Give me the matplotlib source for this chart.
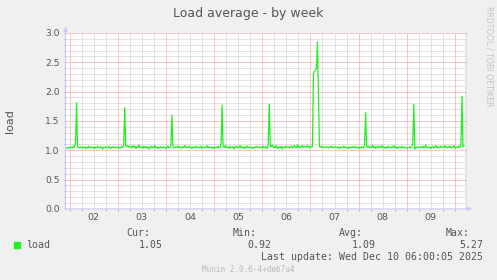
import numpy as np
import matplotlib
matplotlib.use("Agg")
import matplotlib.pyplot as plt
from matplotlib.ticker import FixedLocator, NullFormatter

# --- data: 30-minute load samples starting Dec 1 22:00 ---
load = [
    1.03, 1.04, 1.03, 1.05, 1.04, 1.06, 1.05, 1.04, 1.07, 1.05, 1.12, 1.81, 1.06, 1.05, 1.04, 1.06,
    1.05, 1.04, 1.06, 1.05, 1.03, 1.05, 1.04, 1.07, 1.05, 1.04, 1.06, 1.05, 1.03, 1.06, 1.04, 1.05,
    1.07, 1.05, 1.04, 1.06, 1.05, 1.02, 1.05, 1.04, 1.06, 1.05, 1.04, 1.07, 1.05, 1.03, 1.05, 1.06,
    1.04, 1.05, 1.04, 1.06, 1.05, 1.03, 1.05, 1.04, 1.06, 1.05, 1.10, 1.73, 1.07, 1.06, 1.08, 1.05,
    1.07, 1.06, 1.04, 1.08, 1.05, 1.07, 1.03, 1.06, 1.05, 1.09, 1.04, 1.06, 1.05, 1.03, 1.07, 1.05,
    1.06, 1.04, 1.06, 1.02, 1.05, 1.07, 1.04, 1.06, 1.05, 1.08, 1.04, 1.06, 1.03, 1.05, 1.04, 1.06,
    1.05, 1.04, 1.06, 1.05, 1.03, 1.05, 1.07, 1.04, 1.05, 1.09, 1.60, 1.06, 1.05, 1.04, 1.06, 1.05,
    1.07, 1.04, 1.06, 1.05, 1.03, 1.06, 1.05, 1.08, 1.04, 1.06, 1.05, 1.07, 1.04, 1.05, 1.03, 1.06,
    1.05, 1.04, 1.07, 1.05, 1.06, 1.04, 1.05, 1.07, 1.03, 1.05, 1.06, 1.04, 1.05, 1.08, 1.04, 1.06,
    1.05, 1.04, 1.06, 1.03, 1.05, 1.04, 1.06, 1.05, 1.07, 1.04, 1.05, 1.12, 1.77, 1.06, 1.05, 1.08,
    1.04, 1.06, 1.05, 1.03, 1.07, 1.05, 1.04, 1.06, 1.02, 1.05, 1.07, 1.04, 1.06, 1.05, 1.08, 1.04,
    1.06, 1.05, 1.03, 1.06, 1.04, 1.07, 1.05, 1.04, 1.06, 1.05, 1.03, 1.05, 1.04, 1.06, 1.05, 1.07,
    1.04, 1.05, 1.06, 1.04, 1.05, 1.07, 1.04, 1.06, 1.05, 1.03, 1.11, 1.78, 1.08, 1.06, 1.09, 1.05,
    1.06, 1.04, 1.08, 1.03, 1.05, 1.06, 1.04, 1.07, 1.02, 1.05, 1.06, 1.04, 1.07, 1.05, 1.06, 1.04,
    1.05, 1.07, 1.04, 1.06, 1.08, 1.05, 1.04, 1.09, 1.05, 1.07, 1.04, 1.06, 1.08, 1.05, 1.07, 1.06,
    1.05, 1.08, 1.06, 1.04, 1.07, 1.05, 1.06, 2.30, 2.35, 2.37, 2.40, 2.85, 1.95, 1.06, 1.05, 1.07,
    1.05, 1.06, 1.04, 1.05, 1.06, 1.05, 1.04, 1.06, 1.05, 1.07, 1.04, 1.05, 1.06, 1.05, 1.04, 1.06,
    1.05, 1.03, 1.06, 1.05, 1.04, 1.07, 1.05, 1.06, 1.04, 1.05, 1.03, 1.06, 1.05, 1.04, 1.06, 1.05,
    1.07, 1.04, 1.05, 1.06, 1.03, 1.05, 1.04, 1.06, 1.05, 1.04, 1.10, 1.64, 1.06, 1.05, 1.07, 1.04,
    1.06, 1.05, 1.09, 1.04, 1.06, 1.03, 1.05, 1.07, 1.04, 1.06, 1.05, 1.08, 1.04, 1.06, 1.05, 1.03,
    1.06, 1.04, 1.07, 1.05, 1.04, 1.06, 1.05, 1.08, 1.04, 1.06, 1.05, 1.03, 1.06, 1.05, 1.04, 1.07,
    1.05, 1.04, 1.06, 1.05, 1.03, 1.05, 1.06, 1.04, 1.05, 1.07, 1.11, 1.78, 1.02, 1.05, 1.04, 1.06,
    1.05, 1.04, 1.06, 1.05, 1.07, 1.04, 1.06, 1.09, 1.05, 1.04, 1.06, 1.05, 1.03, 1.06, 1.07, 1.04,
    1.05, 1.08, 1.04, 1.06, 1.05, 1.04, 1.07, 1.05, 1.06, 1.04, 1.08, 1.05, 1.04, 1.06, 1.05, 1.07,
    1.04, 1.06, 1.05, 1.08, 1.04, 1.05, 1.06, 1.04, 1.07, 1.05, 1.12, 1.92, 1.06, 1.08,
]
sample_hours = 0.5           # one sample every 30 min
window_hours = 200           # Dec 1 22:00 -> Dec 10 06:00
first_midnight = 2           # Dec 2 00:00, in hours from window start
day_labels = ["02", "03", "04", "05", "06", "07", "08", "09"]

stat_names = ["Cur:", "Min:", "Avg:", "Max:"]
stat_values = ["1.05", "0.92", "1.09", "5.27"]

BG = "#F0F0F0"
GREEN = "#22EE22"
TXT = "#555555"
MINOR = "#C6C6C6"
MAJOR = "#F09090"
AXIS = "#C8C8FF"

W, H = 497, 280
fig = plt.figure(figsize=(W / 100, H / 100), dpi=100, facecolor=BG)
left, right, top, bottom = 65.5, 467.0, 33.0, 208.9
ax = fig.add_axes([left / W, 1 - bottom / H, (right - left) / W, (bottom - top) / H])
ax.set_facecolor("white")
ax.set_xlim(0, window_hours)
ax.set_ylim(0, 3.0)

# grid: dotted, minor every 6 h / 0.1, major every day / 0.5
dots = (0, (1, 1))
six_h = np.arange(first_midnight, window_hours, 6)
days = np.arange(first_midnight, window_hours, 24)
for v in six_h:
    if v not in days:
        ax.axvline(v, color=MINOR, lw=0.72, ls=dots, zorder=1)
tenths = np.round(np.arange(0.1, 3.01, 0.1), 1)
for v in tenths:
    if round(v * 2) != v * 2:
        ax.axhline(v, color=MINOR, lw=0.72, ls=dots, zorder=1)
for v in days:
    ax.axvline(v, color=MAJOR, lw=0.72, ls=dots, zorder=1.5)
for v in np.arange(0.5, 3.01, 0.5):
    ax.axhline(v, color=MAJOR, lw=0.72, ls=dots, zorder=1.5)

ax.axvspan(199.2, window_hours, color="#E4E4E4", lw=0, zorder=1.2)

t = np.arange(len(load)) * sample_hours
ax.plot(t, load, color=GREEN, lw=0.9, zorder=3)

for s in ax.spines.values():
    s.set_visible(False)

# axes with arrow heads
ax.annotate("", xy=(1.013, 0), xytext=(0, 0), xycoords="axes fraction",
            arrowprops=dict(arrowstyle="-|>", color=AXIS, lw=0.8, mutation_scale=6,
                            shrinkA=0, shrinkB=0), zorder=4, annotation_clip=False)
ax.annotate("", xy=(0, 1.035), xytext=(0, 0), xycoords="axes fraction",
            arrowprops=dict(arrowstyle="-|>", color=AXIS, lw=0.8, mutation_scale=6,
                            shrinkA=0, shrinkB=0), zorder=4, annotation_clip=False)

# ticks: day labels sit at noon
ax.set_xticks(days[:len(day_labels)] + 12)
ax.set_xticklabels(day_labels)
ax.xaxis.set_minor_locator(FixedLocator(six_h))
ax.xaxis.set_minor_formatter(NullFormatter())
ax.tick_params(axis="x", which="major", length=0, pad=2.7, labelsize=6.8, labelcolor=TXT)
ax.tick_params(axis="x", which="minor", length=1.6, width=0.7, color=MAJOR)
ax.set_yticks(np.arange(0, 3.01, 0.5))
ax.set_yticklabels([f"{v:.1f}" for v in np.arange(0, 3.01, 0.5)])
ax.yaxis.set_minor_locator(FixedLocator(tenths))
ax.tick_params(axis="y", which="both", length=1.6, width=0.7, color="#BBBBBB",
               pad=2.6, labelsize=6.6, labelcolor=TXT)

def ftext(x, y, s, **kw):
    fig.text(x / W, 1 - y / H, s, **kw)

ftext(248, 14, "Load average - by week", ha="center", va="center", fontsize=9, color=TXT)
ftext(10.5, 121, "load", ha="center", va="center", rotation=90, fontsize=8, color=TXT)
ftext(488.5, 56, "RRDTOOL / TOBI OETIKER", ha="center", va="center", rotation=270,
      fontsize=5.7, color="#C4C4C4")

mono = "DejaVu Sans Mono"
fig.patches.append(plt.Rectangle((14 / W, 1 - 248 / H), 6 / W, 6 / H,
                                 transform=fig.transFigure, color=GREEN, figure=fig))
ftext(26, 245.5, "load", ha="left", va="center", fontsize=7.15, family=mono, color=TXT)
name_x = [150, 257, 363, 470]
val_x = [163, 271, 376, 483]
for nx, vx, n, v in zip(name_x, val_x, stat_names, stat_values):
    ftext(nx, 233, n, ha="right", va="center", fontsize=7.15, family=mono, color=TXT)
    ftext(vx, 245.5, v, ha="right", va="center", fontsize=7.15, family=mono, color=TXT)
ftext(483, 257.5, "Last update: Wed Dec 10 06:00:05 2025", ha="right", va="center",
      fontsize=7.15, family=mono, color=TXT)
ftext(248.5, 269, "Munin 2.0.6-4+deb7u4", ha="center", va="center",
      fontsize=5.5, family=mono, color="#BBBBBB")

fig.savefig("out.png", dpi=100, facecolor=BG)
